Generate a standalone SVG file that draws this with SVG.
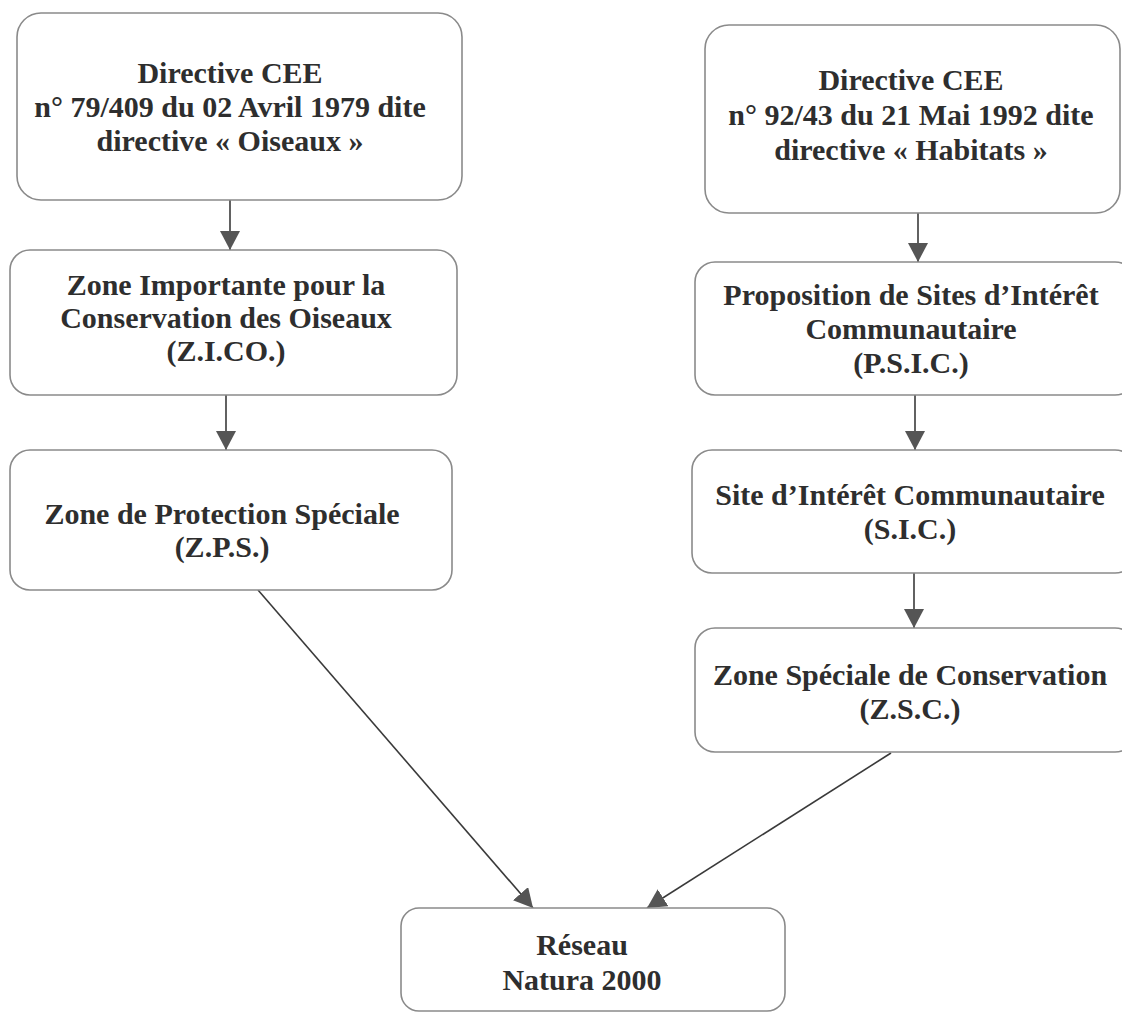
<svg xmlns="http://www.w3.org/2000/svg" width="1122" height="1013" viewBox="0 0 1122 1013">
<defs>
<style>
.box{fill:#fff;stroke:#8a8a8a;stroke-width:1.6}
.t{font-family:"Liberation Serif","Times New Roman",serif;font-weight:bold;font-size:30px;fill:#2e2e2e;text-anchor:middle}
.c{stroke:#3a3a3a;stroke-width:1.6;fill:none;marker-end:url(#ah)}
</style>
<marker id="ah" markerUnits="userSpaceOnUse" markerWidth="22" markerHeight="22" refX="19" refY="10" orient="auto">
<path d="M0,0 L19,10 L0,20 z" fill="#555"/>
</marker>
</defs>
<rect width="1122" height="1013" fill="#fff"/>
<g id="connectors">
<line class="c" x1="230" y1="200" x2="230" y2="250"/>
<line class="c" x1="226" y1="395" x2="226" y2="450"/>
<line class="c" x1="258" y1="590" x2="533" y2="908"/>
<line class="c" x1="918" y1="213" x2="918" y2="262"/>
<line class="c" x1="915" y1="395" x2="915" y2="450"/>
<line class="c" x1="914" y1="573" x2="914" y2="628"/>
<line class="c" x1="891" y1="753" x2="647" y2="908"/>
</g>
<g id="oiseaux">
<rect class="box" x="17" y="13" width="445" height="187" rx="24"/>
<text class="t" x="230" y="83">Directive CEE</text>
<text class="t" x="230" y="117">n° 79/409 du 02 Avril 1979 dite</text>
<text class="t" x="230" y="151">directive « Oiseaux »</text>
</g>
<g id="zico">
<rect class="box" x="10" y="250" width="447" height="145" rx="20"/>
<text class="t" x="226" y="295">Zone Importante pour la</text>
<text class="t" x="226" y="328">Conservation des Oiseaux</text>
<text class="t" x="226" y="361">(Z.I.CO.)</text>
</g>
<g id="zps">
<rect class="box" x="10" y="450" width="442" height="140" rx="20"/>
<text class="t" x="222" y="524">Zone de Protection Spéciale</text>
<text class="t" x="222" y="557">(Z.P.S.)</text>
</g>
<g id="habitats">
<rect class="box" x="705" y="25" width="415" height="188" rx="24"/>
<text class="t" x="911" y="90">Directive CEE</text>
<text class="t" x="911" y="125">n° 92/43 du 21 Mai 1992 dite</text>
<text class="t" x="911" y="160">directive « Habitats »</text>
</g>
<g id="psic">
<rect class="box" x="695" y="262" width="440" height="133" rx="20"/>
<text class="t" x="911" y="305">Proposition de Sites d’Intérêt</text>
<text class="t" x="911" y="339">Communautaire</text>
<text class="t" x="911" y="373">(P.S.I.C.)</text>
</g>
<g id="sic">
<rect class="box" x="692" y="450" width="443" height="123" rx="20"/>
<text class="t" x="910" y="505">Site d’Intérêt Communautaire</text>
<text class="t" x="910" y="539">(S.I.C.)</text>
</g>
<g id="zsc">
<rect class="box" x="695" y="628" width="440" height="124" rx="20"/>
<text class="t" x="910" y="685">Zone Spéciale de Conservation</text>
<text class="t" x="910" y="719">(Z.S.C.)</text>
</g>
<g id="natura">
<rect class="box" x="401" y="908" width="384" height="103" rx="18"/>
<text class="t" x="582" y="955">Réseau</text>
<text class="t" x="582" y="990">Natura 2000</text>
</g>
</svg>
